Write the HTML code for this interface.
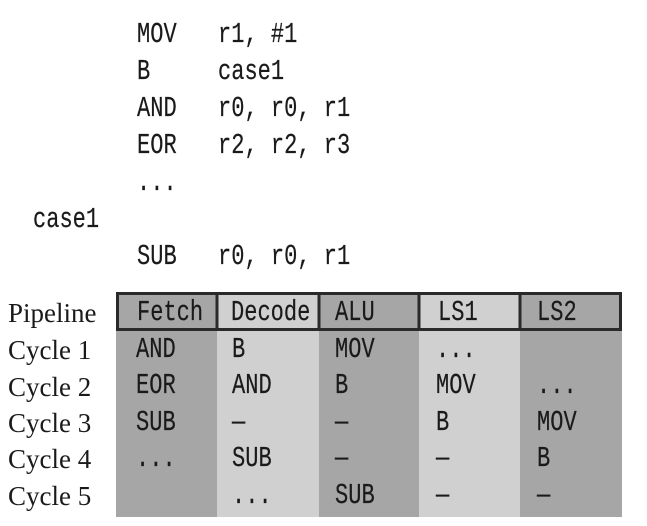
<!DOCTYPE html>
<html><head><style>
html,body{margin:0;padding:0;background:#fff;}
svg{display:block;}
.m{font-family:"Liberation Mono",monospace;font-size:29px;fill:#1a1a1a;stroke:#1a1a1a;stroke-width:0.2;}
.s{font-family:"Liberation Serif",serif;font-size:27px;fill:#1a1a1a;}
</style></head><body>
<svg width="647" height="526" viewBox="0 0 647 526" xmlns="http://www.w3.org/2000/svg">
<g class="m">
<text transform="translate(137,42) scale(0.76,1)">MOV</text><text transform="translate(218,42) scale(0.76,1)">r1, #1</text>
<text transform="translate(137,79) scale(0.76,1)">B</text><text transform="translate(218,79) scale(0.76,1)">case1</text>
<text transform="translate(137,116) scale(0.76,1)">AND</text><text transform="translate(218,116) scale(0.76,1)">r0, r0, r1</text>
<text transform="translate(137,153) scale(0.76,1)">EOR</text><text transform="translate(218,153) scale(0.76,1)">r2, r2, r3</text>
<text transform="translate(137,190) scale(0.76,1)">...</text>
<text transform="translate(33,227) scale(0.76,1)">case1</text>
<text transform="translate(137,264) scale(0.76,1)">SUB</text><text transform="translate(218,264) scale(0.76,1)">r0, r0, r1</text>
</g>
<rect x="116" y="292" width="101" height="225" fill="#a6a6a6"/>
<rect x="217" y="292" width="102" height="225" fill="#d0d0d0"/>
<rect x="319" y="292" width="100" height="225" fill="#a6a6a6"/>
<rect x="419" y="292" width="101" height="225" fill="#d0d0d0"/>
<rect x="520" y="292" width="102" height="225" fill="#a6a6a6"/>
<g stroke="#2a2a2a" stroke-width="3" fill="none">
<rect x="117.5" y="293.5" width="503" height="36"/>
<line x1="217" y1="293" x2="217" y2="330"/>
<line x1="319" y1="293" x2="319" y2="330"/>
<line x1="419" y1="293" x2="419" y2="330"/>
<line x1="520" y1="293" x2="520" y2="330"/>
</g>
<g class="s">
<text x="8" y="322">Pipeline</text>
<text x="8" y="359">Cycle 1</text>
<text x="8" y="396">Cycle 2</text>
<text x="8" y="432">Cycle 3</text>
<text x="8" y="468">Cycle 4</text>
<text x="8" y="505">Cycle 5</text>
</g>
<g class="m">
<text transform="translate(137,320) scale(0.76,1)">Fetch</text>
<text transform="translate(231,320) scale(0.76,1)">Decode</text>
<text transform="translate(335,320) scale(0.76,1)">ALU</text>
<text transform="translate(438,320) scale(0.76,1)">LS1</text>
<text transform="translate(537,320) scale(0.76,1)">LS2</text>

<text transform="translate(136,357) scale(0.76,1)">AND</text>
<text transform="translate(232,357) scale(0.76,1)">B</text>
<text transform="translate(335,357) scale(0.76,1)">MOV</text>
<text transform="translate(436,357) scale(0.76,1)">...</text>

<text transform="translate(136,393) scale(0.76,1)">EOR</text>
<text transform="translate(232,393) scale(0.76,1)">AND</text>
<text transform="translate(335,393) scale(0.76,1)">B</text>
<text transform="translate(436,393) scale(0.76,1)">MOV</text>
<text transform="translate(537,393) scale(0.76,1)">...</text>

<text transform="translate(136,430) scale(0.76,1)">SUB</text>
<text transform="translate(232,430) scale(0.76,1)">—</text>
<text transform="translate(335,430) scale(0.76,1)">—</text>
<text transform="translate(436,430) scale(0.76,1)">B</text>
<text transform="translate(537,430) scale(0.76,1)">MOV</text>

<text transform="translate(136,466) scale(0.76,1)">...</text>
<text transform="translate(232,466) scale(0.76,1)">SUB</text>
<text transform="translate(335,466) scale(0.76,1)">—</text>
<text transform="translate(436,466) scale(0.76,1)">—</text>
<text transform="translate(537,466) scale(0.76,1)">B</text>

<text transform="translate(232,503) scale(0.76,1)">...</text>
<text transform="translate(335,503) scale(0.76,1)">SUB</text>
<text transform="translate(436,503) scale(0.76,1)">—</text>
<text transform="translate(537,503) scale(0.76,1)">—</text>
</g>
</svg>
</body></html>
